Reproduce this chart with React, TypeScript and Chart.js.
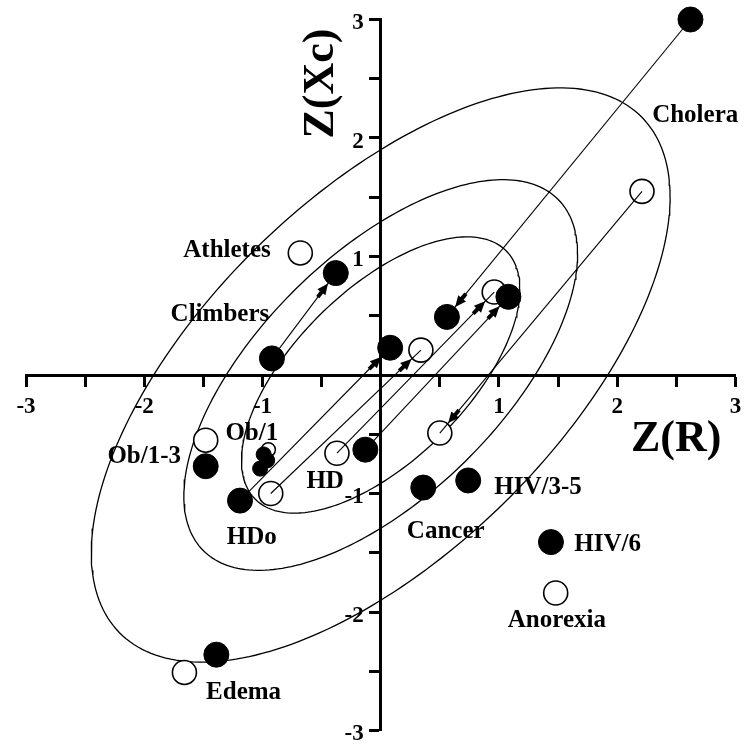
import { useEffect, useRef } from "react";
import { Chart, registerables } from "chart.js";

Chart.register(...registerables);

// Group mean vectors as Z-scores: Z(R) on x, Z(Xc) on y.
// Filled markers
const FILLED_X = [2.62, 0.56, -0.38, -0.92, -1.19, 0.08, -0.13, 1.08, 0.36, 0.74, 1.44, -1.48, -1.39];
const FILLED_Y = [3.0, 0.49, 0.86, 0.14, -1.06, 0.23, -0.63, 0.66, -0.95, -0.89, -1.41, -0.77, -2.36];
// Open markers
const OPEN_X = [-0.68, 2.21, 0.5, -0.93, 0.34, -0.37, 0.96, -1.48, 1.48, -1.66];
const OPEN_Y = [1.03, 1.55, -0.49, -1.0, 0.21, -0.66, 0.7, -0.55, -1.84, -2.51];
// Ob/1 subgroups (small markers)
const OB1_FILLED_X = [-0.99, -0.96, -1.02];
const OB1_FILLED_Y = [-0.67, -0.72, -0.79];
const OB1_OPEN_X = [-0.95];
const OB1_OPEN_Y = [-0.63];

// Follow-up vectors: [from index, to index] within each marker set
const FILLED_VECTORS = [
  [0, 1],
  [3, 2],
  [4, 5],
  [6, 7],
];
const OPEN_VECTORS = [
  [1, 2],
  [3, 4],
  [5, 6],
];

// Tolerance ellipses of the reference population
const ELLIPSE_LEVELS = [0.5, 0.75, 0.95];
const ELLIPSE_R = 0.62;
const ELLIPSE_SX = 1.0;
const ELLIPSE_SY = 0.99;

// Group names and where they sit (data units)
const LABEL_TEXT = ["Athletes", "Climbers", "Ob/1", "Ob/1-3", "HD", "HDo", "Cancer", "HIV/3-5", "HIV/6", "Anorexia", "Edema", "Cholera"];
const LABEL_X = [-1.3, -1.36, -1.09, -2.0, -0.47, -1.09, 0.55, 1.33, 1.92, 1.49, -1.16, 2.66];
const LABEL_Y = [1.05, 0.51, -0.49, -0.69, -0.9, -1.37, -1.32, -0.95, -1.43, -2.07, -2.68, 2.19];

// Axis range and labelled ticks
const AXIS_MIN = -3;
const AXIS_MAX = 3;
const TICK_VALUES = [-3, -2, -1, 1, 2, 3];

const SERIF = '"Liberation Serif", "Times New Roman", serif';

function ellipsePoints(p: number) {
  const c = -2 * Math.log(1 - p);
  const k = Math.sqrt(c);
  const s = Math.sqrt(1 - ELLIPSE_R * ELLIPSE_R);
  const pts: { x: number; y: number }[] = [];
  const n = 240;
  for (let i = 0; i <= n; i++) {
    const t = (i / n) * Math.PI * 2;
    pts.push({
      x: ELLIPSE_SX * k * Math.cos(t),
      y: ELLIPSE_SY * k * (ELLIPSE_R * Math.cos(t) + s * Math.sin(t)),
    });
  }
  return pts;
}

const zip = (xs: number[], ys: number[]) => xs.map((x, i) => ({ x, y: ys[i] }));

const overlayPlugin = {
  id: "overlay",
  afterDatasetsDraw(chart: any) {
    const { ctx, scales, chartArea } = chart;
    const sx = scales.x;
    const sy = scales.y;
    const x0 = sx.getPixelForValue(0);
    const y0 = sy.getPixelForValue(0);
    ctx.save();
    ctx.fillStyle = "#000";
    ctx.strokeStyle = "#000";

    // arrowheads near the end of each follow-up vector
    const arrow = (ax: number, ay: number, bx: number, by: number) => {
      const px0 = sx.getPixelForValue(ax);
      const py0 = sy.getPixelForValue(ay);
      const px1 = sx.getPixelForValue(bx);
      const py1 = sy.getPixelForValue(by);
      const dx = px1 - px0;
      const dy = py1 - py0;
      const len = Math.hypot(dx, dy);
      const ux = dx / len;
      const uy = dy / len;
      const nx = -uy;
      const ny = ux;
      const tipX = px1 - ux * 13;
      const tipY = py1 - uy * 13;
      const bX = px1 - ux * 24;
      const bY = py1 - uy * 24;
      ctx.beginPath();
      ctx.moveTo(tipX, tipY);
      ctx.lineTo(bX + nx * 5, bY + ny * 5);
      ctx.lineTo(bX - nx * 5, bY - ny * 5);
      ctx.closePath();
      ctx.fill();
      ctx.lineWidth = 4;
      ctx.beginPath();
      ctx.moveTo(bX + ux, bY + uy);
      ctx.lineTo(px1 - ux * 30, py1 - uy * 30);
      ctx.stroke();
    };
    FILLED_VECTORS.forEach(([a, b]) => arrow(FILLED_X[a], FILLED_Y[a], FILLED_X[b], FILLED_Y[b]));
    OPEN_VECTORS.forEach(([a, b]) => arrow(OPEN_X[a], OPEN_Y[a], OPEN_X[b], OPEN_Y[b]));

    // tick labels
    ctx.font = `bold 23px ${SERIF}`;
    ctx.textAlign = "center";
    ctx.textBaseline = "middle";
    TICK_VALUES.forEach((v) => {
      ctx.fillText(String(v), sx.getPixelForValue(v), y0 + 32);
    });
    ctx.textAlign = "right";
    TICK_VALUES.forEach((v) => {
      ctx.fillText(String(v), x0 - 17, sy.getPixelForValue(v) + 4);
    });

    // group names
    ctx.font = `bold 25px ${SERIF}`;
    ctx.textAlign = "center";
    ctx.textBaseline = "middle";
    LABEL_TEXT.forEach((t, i) => {
      ctx.fillText(t, sx.getPixelForValue(LABEL_X[i]), sy.getPixelForValue(LABEL_Y[i]));
    });

    // axis titles
    ctx.font = `bold 44px ${SERIF}`;
    ctx.textAlign = "right";
    ctx.textBaseline = "alphabetic";
    ctx.fillText("Z(R)", chartArea.right - 14, y0 + 76);

    ctx.translate(x0 - 48, chartArea.top + 64);
    ctx.rotate(-Math.PI / 2);
    ctx.textAlign = "center";
    ctx.fillText("Z(Xc)", 0, 0);
    ctx.restore();
  },
};

export default function App() {
  const ref = useRef<HTMLCanvasElement | null>(null);

  useEffect(() => {
    if (!ref.current) return;

    const axisCommon = {
      type: "linear" as const,
      min: AXIS_MIN,
      max: AXIS_MAX,
      grid: {
        display: true,
        drawOnChartArea: false,
        drawTicks: true,
        tickLength: 10,
        tickWidth: 3,
        tickColor: "#000",
        color: "#000",
      },
      border: { display: true, color: "#000", width: 3 },
      ticks: {
        display: false,
        stepSize: 0.5,
        autoSkip: false,
      },
    };

    const chart = new Chart(ref.current, {
      type: "scatter",
      data: {
        datasets: [
          {
            label: "filled",
            data: zip(FILLED_X, FILLED_Y),
            pointRadius: 12.5,
            backgroundColor: "#000",
            borderColor: "#000",
            borderWidth: 1,
            clip: false,
            order: 0,
          },
          {
            label: "ob1 filled",
            data: zip(OB1_FILLED_X, OB1_FILLED_Y),
            pointRadius: 7.5,
            backgroundColor: "#000",
            borderColor: "#000",
            borderWidth: 1,
            order: 0,
          },
          ...FILLED_VECTORS.map(([a, b]) => ({
            label: "vector",
            data: [
              { x: FILLED_X[a], y: FILLED_Y[a] },
              { x: FILLED_X[b], y: FILLED_Y[b] },
            ],
            showLine: true,
            pointRadius: 0,
            borderColor: "#000",
            borderWidth: 1.1,
            clip: false,
            order: 1,
          })),
          ...OPEN_VECTORS.map(([a, b]) => ({
            label: "vector",
            data: [
              { x: OPEN_X[a], y: OPEN_Y[a] },
              { x: OPEN_X[b], y: OPEN_Y[b] },
            ],
            showLine: true,
            pointRadius: 0,
            borderColor: "#000",
            borderWidth: 1.1,
            order: 1,
          })),
          {
            label: "ob1 open",
            data: zip(OB1_OPEN_X, OB1_OPEN_Y),
            pointRadius: 7,
            backgroundColor: "#fff",
            borderColor: "#000",
            borderWidth: 1.5,
            order: 2,
          },
          {
            label: "open",
            data: zip(OPEN_X, OPEN_Y),
            pointRadius: 12,
            backgroundColor: "#fff",
            borderColor: "#000",
            borderWidth: 1.6,
            clip: false,
            order: 2,
          },
          ...ELLIPSE_LEVELS.map((p) => ({
            label: `ellipse ${p}`,
            data: ellipsePoints(p),
            showLine: true,
            pointRadius: 0,
            borderColor: "#000",
            borderWidth: 1.3,
            order: 3,
          })),
        ],
      },
      options: {
        animation: false,
        responsive: false,
        devicePixelRatio: 1,
        events: [],
        layout: { padding: { left: 26, right: 9, top: 19.5, bottom: 16.5 } },
        plugins: {
          legend: { display: false },
          tooltip: { enabled: false },
        },
        scales: {
          x: { ...axisCommon, position: { y: 0 } as any },
          y: { ...axisCommon, position: { x: 0 } as any },
        },
      },
      plugins: [overlayPlugin],
    });

    return () => chart.destroy();
  }, []);

  return (
    <div style={{ position: "absolute", left: 0, top: 0, width: 749, height: 747, background: "#fff" }}>
      <canvas ref={ref} width={749} height={747} style={{ display: "block" }} />
    </div>
  );
}
